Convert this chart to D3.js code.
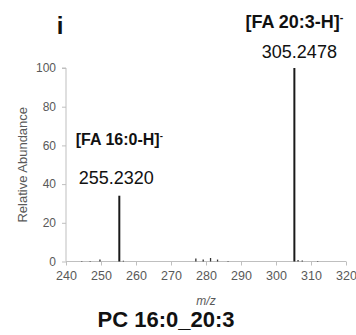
<!DOCTYPE html>
<html>
<head>
<meta charset="utf-8">
<script src="https://cdn.jsdelivr.net/npm/d3@7"></script>
<style>
  html, body { margin: 0; padding: 0; background: #fff; }
  svg text { font-family: "Liberation Sans", Arial, sans-serif; }
</style>
</head>
<body>
<svg id="chart" width="356" height="335"></svg>
<script>
// MS/MS spectrum peaks (m/z and relative abundance, %)
const peakMz = [244.5, 246.9, 249.7, 255.232, 256.4, 277.1, 279.2, 281.3, 283.3, 286.3, 305.2478, 306.3, 307.5, 311.9];
const peakAbundance = [0.3, 0.3, 1.0, 34, 0.4, 1.5, 1.0, 1.8, 1.0, 0.3, 100, 0.8, 0.5, 0.2];

const xTicks = [240, 250, 260, 270, 280, 290, 300, 310, 320];
const yTicks = [0, 20, 40, 60, 80, 100];

// annotated fragment ions
const fragmentNames = ["[FA 16:0-H]", "[FA 20:3-H]"];
const fragmentMz = [255.2320, 305.2478];

const panelLetter = "i";
const speciesName = "PC 16:0_20:3";

const svg = d3.select("#chart");
const plotLeft = 66, plotRight = 346, plotTop = 68, plotBottom = 261.5;

const x = d3.scaleLinear().domain([240, 320]).range([plotLeft, plotRight]);
const y = d3.scaleLinear().domain([0, 100]).range([plotBottom, plotTop]);

const axisColor = "#bfbfbf";
const labelColor = "#595959";

// y axis
const gy = svg.append("g")
  .attr("transform", `translate(${plotLeft},0)`)
  .call(d3.axisLeft(y).tickValues(yTicks).tickSize(4).tickPadding(6));
gy.select(".domain").attr("stroke", axisColor).attr("d", `M-4,${plotTop}H0V${plotBottom}`);
gy.selectAll(".tick line").attr("stroke", axisColor);
gy.selectAll(".tick text").attr("fill", labelColor).style("font-size", "12px");

// x axis
const gx = svg.append("g")
  .attr("transform", `translate(0,${plotBottom})`)
  .call(d3.axisBottom(x).tickValues(xTicks).tickSize(4).tickPadding(6));
gx.select(".domain").attr("stroke", axisColor).attr("d", `M${plotLeft},0H${plotRight}`);
gx.selectAll(".tick line").attr("stroke", axisColor);
gx.selectAll(".tick text").attr("fill", labelColor).style("font-size", "12.5px");

// spectrum sticks
svg.append("g").selectAll("line")
  .data(peakMz.map((m, i) => ({ m, v: peakAbundance[i] })))
  .join("line")
  .attr("x1", d => x(d.m)).attr("x2", d => x(d.m))
  .attr("y1", y(0)).attr("y2", d => y(d.v))
  .attr("stroke", d => d.v > 10 ? "#1a1a1a" : "#333")
  .attr("stroke-width", d => d.v > 10 ? 2 : 1.3);

// axis titles
svg.append("text")
  .attr("transform", `translate(27,${(plotTop + plotBottom) / 2}) rotate(-90)`)
  .attr("text-anchor", "middle")
  .attr("fill", labelColor)
  .style("font-size", "13px")
  .text("Relative Abundance");

svg.append("text")
  .attr("x", (plotLeft + plotRight) / 2).attr("y", 305)
  .attr("text-anchor", "middle")
  .attr("fill", labelColor)
  .style("font-size", "12px")
  .style("font-style", "italic")
  .text("m/z");

// panel letter and species title
svg.append("text")
  .attr("x", 60).attr("y", 34)
  .attr("text-anchor", "middle")
  .style("font-size", "24px").style("font-weight", "bold")
  .attr("fill", "#111")
  .text(panelLetter);

svg.append("text")
  .attr("x", 166).attr("y", 327)
  .attr("text-anchor", "middle")
  .style("font-size", "22px").style("font-weight", "bold")
  .attr("fill", "#111")
  .text(speciesName);

// fragment annotations: ion name with superscript charge, and m/z value
const annot = [
  { name: fragmentNames[0], mz: fragmentMz[0], nameY: 145, valY: 184, size: 16, dx: -3 },
  { name: fragmentNames[1], mz: fragmentMz[1], nameY: 28, valY: 58, size: 18, dx: 5 }
];
annot.forEach(a => {
  const t = svg.append("text")
    .attr("x", x(a.mz)).attr("y", a.nameY)
    .attr("text-anchor", "middle")
    .style("font-size", a.size + "px").style("font-weight", "bold")
    .attr("fill", "#111");
  t.append("tspan").text(a.name);
  t.append("tspan").attr("dy", -a.size * 0.4).style("font-size", (a.size * 0.6) + "px").text("-");

  svg.append("text")
    .attr("x", x(a.mz) + a.dx).attr("y", a.valY)
    .attr("text-anchor", "middle")
    .style("font-size", "18px")
    .attr("fill", "#111")
    .text(a.mz.toFixed(4));
});
</script>
</body>
</html>
